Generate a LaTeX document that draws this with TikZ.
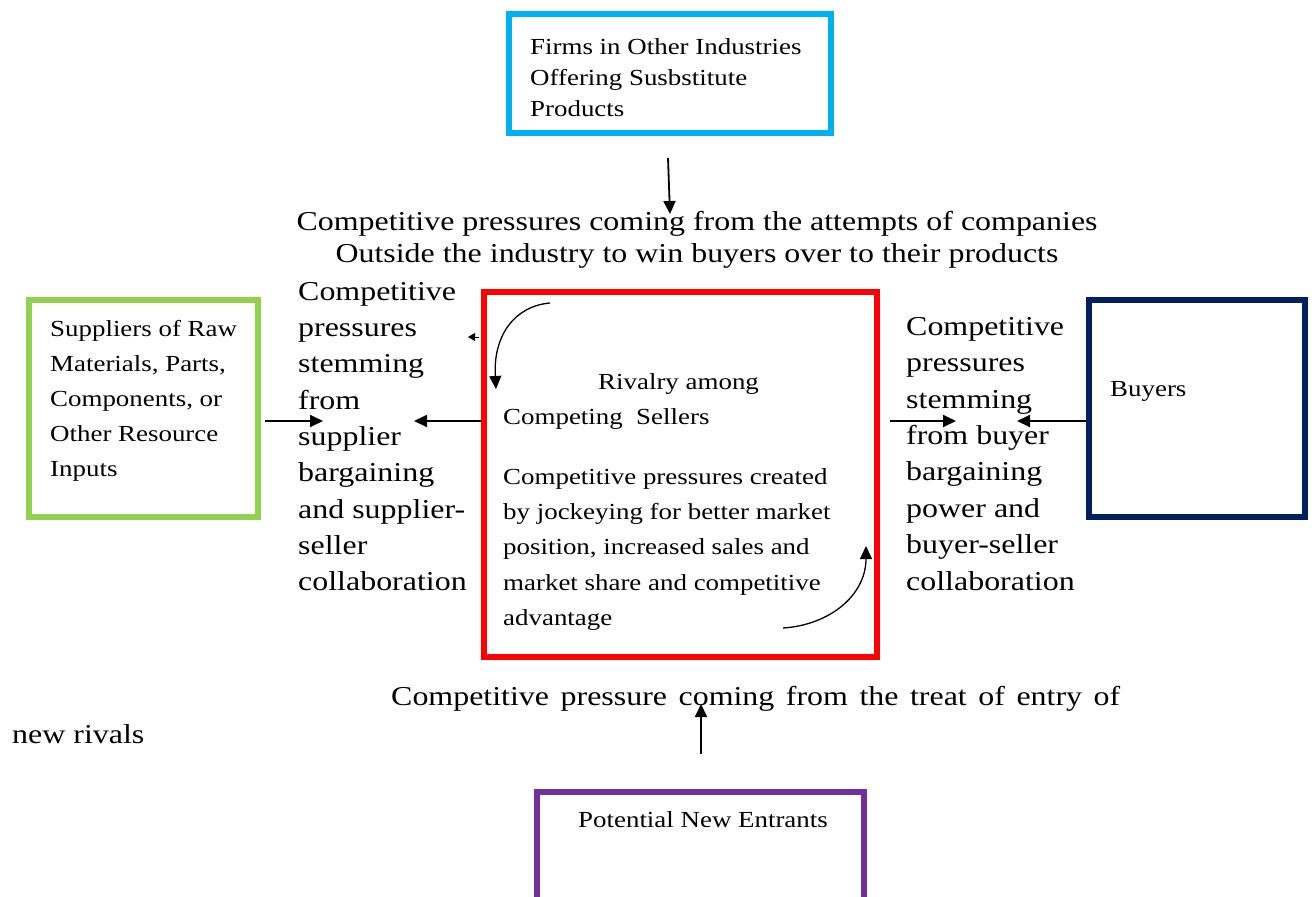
\documentclass[tikz,border=0pt]{standalone}
\usepackage{fontspec}
\setmainfont{Liberation Serif}[FakeStretch=1.17]
\usetikzlibrary{arrows.meta}
\definecolor{cBlue}{HTML}{00B0F0}
\definecolor{cGreen}{HTML}{92D050}
\definecolor{cRed}{HTML}{FF0000}
\definecolor{cNavy}{HTML}{002060}
\definecolor{cPurple}{HTML}{7030A0}
\tikzset{
  box/.style={draw, line width=5.5pt, rectangle, inner sep=0pt},
  small/.style={anchor=north west, inner sep=0pt, align=left, font=\fontsize{23}{35}\selectfont},
  big/.style={anchor=north west, inner sep=0pt, align=left, font=\fontsize{27.3}{36.3}\selectfont},
  arr/.style={line width=1.8pt, -{Triangle[length=13pt,width=12pt]}},
}
\begin{document}
\begin{tikzpicture}[x=1pt,y=-1pt]
\useasboundingbox[fill=white] (0,0) rectangle (1315,897);
% boxes
\node[box, draw=cBlue, minimum width=322pt, minimum height=119pt] (subs) at (670,73.5) {};
\node[box, draw=cGreen, minimum width=229pt, minimum height=217pt] (supp) at (143.5,408.5) {};
\node[box, draw=cRed, minimum width=393pt, minimum height=365pt] (rival) at (680.5,474.5) {};
\node[box, draw=cNavy, minimum width=216pt, minimum height=217pt] (buy) at (1197,408.5) {};
\node[box, draw=cPurple, minimum width=327pt, minimum height=113pt] (entr) at (700.5,848.5) {};
% texts in boxes
\node[small, font=\fontsize{23}{31}\selectfont] (tsubs) at (530,38) {Firms in Other Industries\\Offering Susbstitute\\Products};
\node[small] (tsupp) at (50,320) {Suppliers of Raw\\Materials, Parts,\\Components, or\\Other Resource\\Inputs};
\node[small] (triv) at (503,373) {\hspace*{95pt}Rivalry among\\Competing\ \ Sellers};
\node[small, font=\fontsize{23}{35.3}\selectfont] (tpar) at (503,468) {Competitive pressures created\\by jockeying for better market\\position, increased sales and\\market share and competitive\\advantage};
\node[small] (tbuy) at (1110,381) {Buyers};
\node[small] (tentr) at (578,811) {Potential New Entrants};
% big texts
\node[big, anchor=north, align=center, font=\fontsize{27.3}{32}\selectfont] (ttop) at (697,211) {Competitive pressures coming from the attempts of companies\\Outside the industry to win buyers over to their products};
\node[big] (tleft) at (298,282) {Competitive\\pressures\\stemming\\from\\supplier\\bargaining\\and supplier-\\seller\\collaboration};
\node[big, font=\fontsize{27.3}{36.4}\selectfont] (tright) at (906,317) {Competitive\\pressures\\stemming\\from buyer\\bargaining\\power and\\buyer-seller\\collaboration};
\node[big] (tbot) at (391,686) {\makebox[729pt][s]{Competitive pressure coming from the treat of entry of}};
\node[big] (tnew) at (12,724) {new rivals};
% connectors
\coordinate (ya) at (0,421);
\coordinate (s1) at (668,158);
\coordinate (s2) at (670,214);
\draw[arr] (s1) -- (s2);
\coordinate (g1) at (265,421);
\coordinate (g2) at (323,421);
\draw[arr] (g1) -- (g2);
\coordinate (l2) at (414,421);
\draw[arr] (rival.west |- ya) -- (l2);
\coordinate (t1) at (479,337);
\coordinate (t2) at (468,337);
\draw[line width=1pt, -{Triangle[length=7pt,width=8pt]}] (t1) -- (t2);
\coordinate (c1) at (550,303);
\coordinate (c2) at (496,389);
\draw[arr, line width=1.3pt] (c1) .. controls (515,306) and (493,335) .. (c2);
\coordinate (d1) at (783,628);
\coordinate (d2) at (866,546);
\draw[arr, line width=1.3pt] (d1) .. controls (830,625) and (866,595) .. (d2);
\coordinate (r1) at (890,421);
\coordinate (r2) at (956,421);
\draw[arr] (r1) -- (r2);
\coordinate (b2) at (1017,421);
\draw[arr] (buy.west |- ya) -- (b2);
\coordinate (e1) at (701,754);
\coordinate (e2) at (701,704);
\draw[arr] (e1) -- (e2);
\end{tikzpicture}
\end{document}
